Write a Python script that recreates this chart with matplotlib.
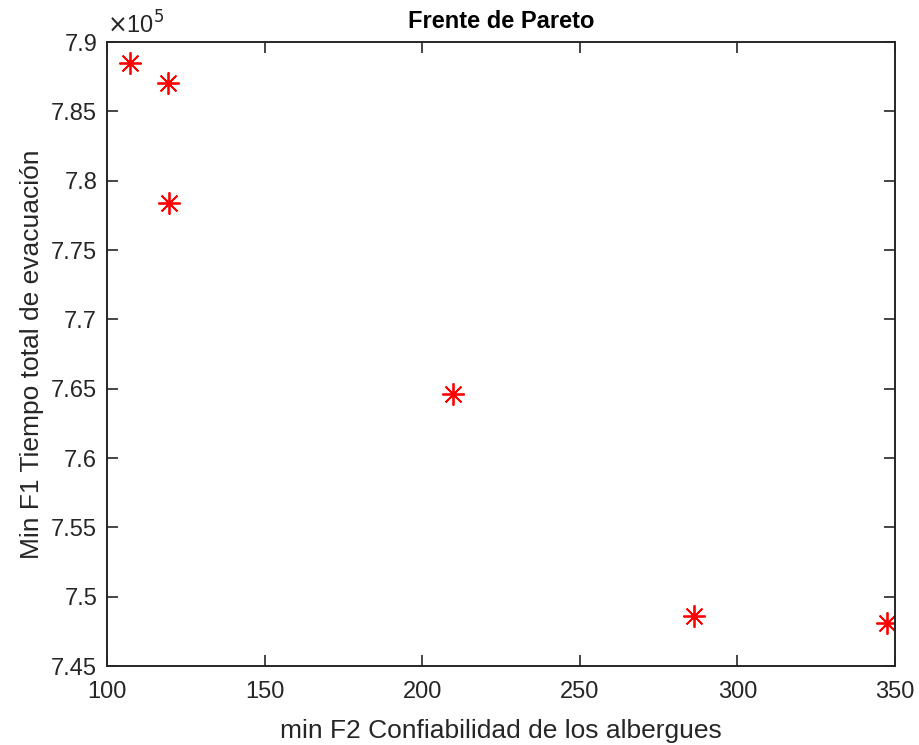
import numpy as np
import matplotlib
matplotlib.use("Agg")
import matplotlib.pyplot as plt
from matplotlib.ticker import FuncFormatter

# Pareto front points
f2_confiabilidad = [107.2, 119.3, 119.8, 209.7, 286.2, 347.4]
f1_tiempo = [788460, 787020, 778360, 764600, 748590, 748130]

x_ticks = [100, 150, 200, 250, 300, 350]
y_ticks = [7.45e5, 7.5e5, 7.55e5, 7.6e5, 7.65e5, 7.7e5, 7.75e5, 7.8e5, 7.85e5, 7.9e5]

plt.rcParams["font.family"] = ["Liberation Sans", "DejaVu Sans"]
dark = "#262626"

fig = plt.figure(figsize=(9.19, 7.45), dpi=100)
ax = fig.add_axes([0.1164, 0.106, 0.8575, 0.8376])

ax.plot(f2_confiabilidad, f1_tiempo, linestyle="none", marker=(8, 2, 0),
        markersize=16, markeredgewidth=1.3, color="red")

ax.set_xlim(100, 350)
ax.set_ylim(7.45e5, 7.9e5)
ax.set_xticks(x_ticks)
ax.set_yticks(y_ticks)
ax.yaxis.set_major_formatter(FuncFormatter(lambda v, p: "%g" % round(v / 1e5, 4)))

ax.tick_params(direction="in", length=8, width=1.2, colors=dark,
               labelsize=17, top=True, right=True, pad=7)
ax.tick_params(axis="x", pad=11)
for s in ax.spines.values():
    s.set_color(dark)
    s.set_linewidth(1.4)

ax.text(0.0, 1.005, r"$\times$10$^5$", transform=ax.transAxes,
        fontsize=17, color=dark, va="bottom", ha="left")

ax.set_xlabel("min F2 Confiabilidad de los albergues", fontsize=19, color=dark, labelpad=11)
ax.set_ylabel("Min F1 Tiempo total de evacuación", fontsize=19, color=dark, labelpad=5)
ax.set_title("Frente de Pareto", fontsize=17, fontweight="bold", color="black", pad=10)

fig.savefig("out.png", dpi=100)
